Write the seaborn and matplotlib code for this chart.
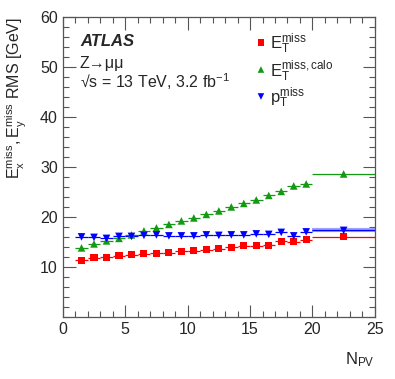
import numpy as np
import pandas as pd
import matplotlib
matplotlib.use("Agg")
import matplotlib.pyplot as plt
from matplotlib.ticker import MultipleLocator
import seaborn as sns

# ── Data ───────────────────────────────────────
bin_edges = [1, 2, 3, 4, 5, 6, 7, 8, 9, 10, 11, 12, 13, 14, 15, 16,
             17, 18, 19, 20, 25]
met_tst = [11.3, 11.8, 11.9, 12.2, 12.4, 12.6, 12.7, 12.8, 13.1, 13.2,
           13.4, 13.6, 13.9, 14.2, 14.2, 14.3, 15.1, 15.0, 15.4, 16.0]
met_calo = [13.8, 14.6, 15.2, 15.7, 16.4, 17.2, 17.8, 18.5, 19.2, 19.8,
            20.5, 21.2, 22.0, 22.7, 23.4, 24.3, 25.1, 26.2, 26.6, 28.6]
met_track = [16.0, 15.9, 15.7, 16.1, 16.1, 16.3, 16.4, 16.2, 16.2, 16.2,
             16.4, 16.3, 16.4, 16.4, 16.6, 16.5, 16.9, 16.2, 17.0, 17.3]

series = [
    (r"$\mathregular{E_{T}^{miss}}$",      met_tst,   "#ff0000", "s", 26),
    (r"$\mathregular{E_{T}^{miss,calo}}$", met_calo,  "#129a12", "^", 30),
    (r"$\mathregular{p_{T}^{miss}}$",      met_track, "#0000ff", "v", 30),
]

sns.set_style("ticks")
plt.rcParams["font.family"] = ["Liberation Sans", "DejaVu Sans"]
plt.rcParams["mathtext.fontset"] = "custom"
plt.rcParams["mathtext.rm"] = "Liberation Sans"
plt.rcParams["mathtext.it"] = "Liberation Sans:italic"
plt.rcParams["mathtext.bf"] = "Liberation Sans:bold"

edges = np.array(bin_edges, dtype=float)
lo, hi = edges[:-1], edges[1:]
centers = 0.5 * (lo + hi)

fig = plt.figure(figsize=(3.95, 3.79), dpi=100)
ax = fig.add_axes([0.159, 0.164, 0.79, 0.791])

for label, vals, color, marker, size in series:
    vals = np.array(vals)
    df = pd.DataFrame({"npv": centers, "rms": vals})
    if marker == "v":
        # light uncertainty band on the wide last bin
        ax.hlines(vals[-1], lo[-1], hi[-1], color="#a0a0ff", lw=3.0, zorder=1)
    ax.hlines(vals, lo, hi, color=color, lw=0.9, zorder=2)
    sns.scatterplot(data=df, x="npv", y="rms", ax=ax, color=color,
                    marker=marker, s=size, edgecolor="none", zorder=3,
                    legend=False)

ax.set_xlim(0, 25)
ax.set_ylim(0, 60)
ax.xaxis.set_major_locator(MultipleLocator(5))
ax.xaxis.set_minor_locator(MultipleLocator(1))
ax.set_yticks([10, 20, 30, 40, 50, 60])
ax.yaxis.set_minor_locator(MultipleLocator(2))
ax.tick_params(which="both", direction="in", top=True, right=True,
               labelsize=11.5, color="#555555")
ax.tick_params(which="major", length=9, width=0.8)
ax.tick_params(which="minor", length=4.5, width=0.8)
for sp in ax.spines.values():
    sp.set_color("#555555")
    sp.set_linewidth(0.9)

ax.set_xlabel(r"$\mathregular{N_{PV}}$", fontsize=12)
ax.xaxis.set_label_coords(1.0, -0.11)
ax.xaxis.label.set_horizontalalignment("right")
ax.set_ylabel(r"$\mathregular{E_{x}^{miss},E_{y}^{miss}}$ RMS [GeV]",
              fontsize=11.5)
ax.yaxis.set_label_coords(-0.148, 1.0)
ax.yaxis.label.set(ha="right", va="center", rotation_mode="anchor")

# ATLAS labels
ax.text(0.055, 0.905, "ATLAS", transform=ax.transAxes, fontsize=12,
        fontweight="bold", fontstyle="italic")
ax.text(0.055, 0.83, "Z\u2192\u03bc\u03bc", transform=ax.transAxes,
        fontsize=11.5)
ax.text(0.055, 0.765, "\u221as = 13 TeV, 3.2 fb$^{-1}$",
        transform=ax.transAxes, fontsize=11.5)

# Legend
for i, (label, vals, color, marker, size) in enumerate(series):
    ly = 0.91 - i * 0.09
    ax.scatter([0.635], [ly + 0.005], transform=ax.transAxes, marker=marker,
               s=size * 0.75, color=color, edgecolor="none", clip_on=False)
    ax.text(0.665, ly, label, transform=ax.transAxes, fontsize=12,
            va="center")

fig.savefig("out.png", dpi=100)
